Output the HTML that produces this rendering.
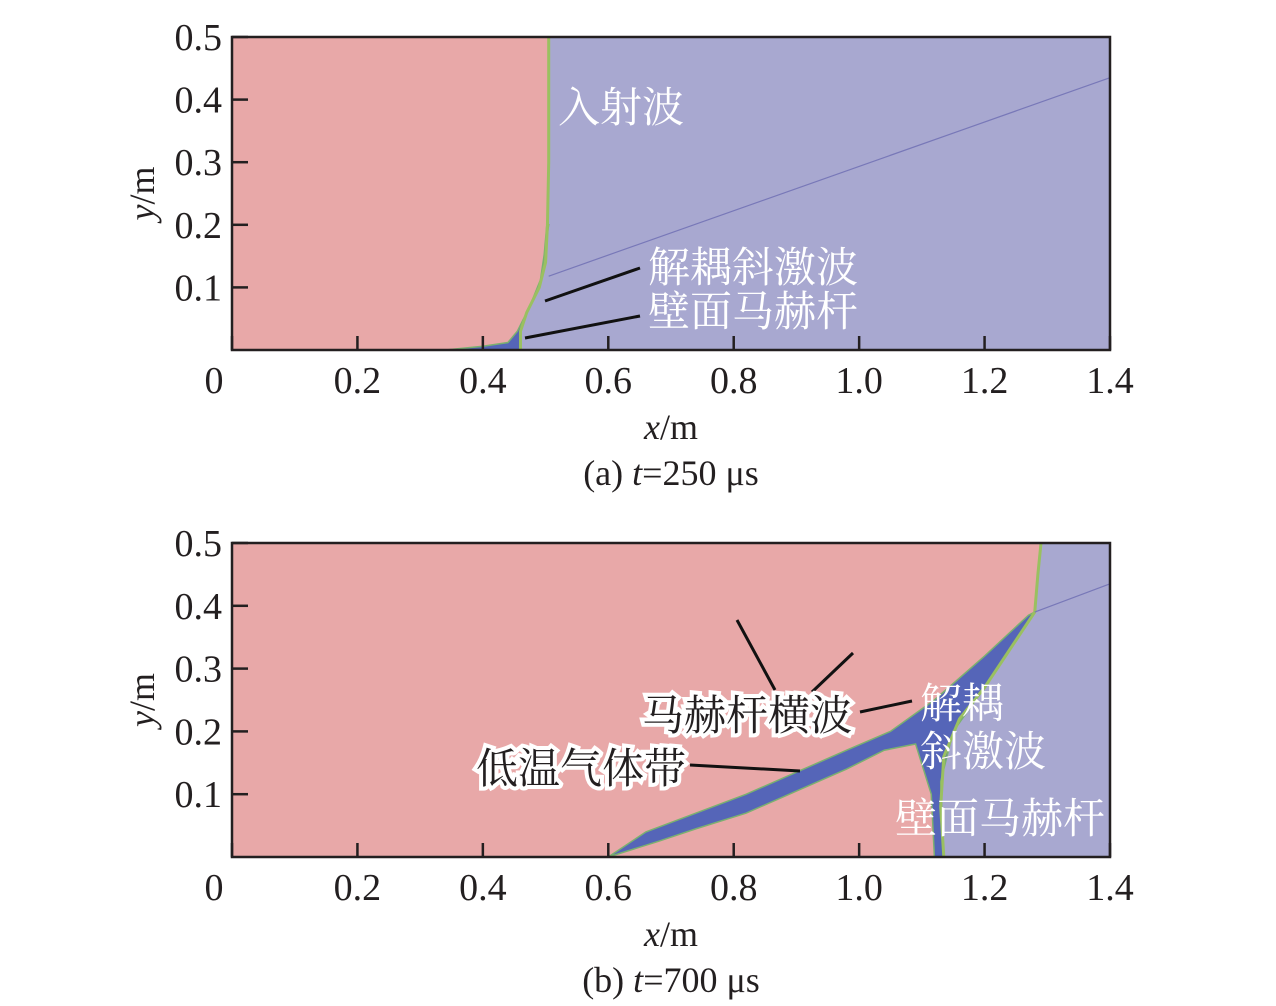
<!DOCTYPE html>
<html><head><meta charset="utf-8">
<style>
html,body{margin:0;padding:0;background:#fff;}
svg{display:block;}
text{font-family:"Liberation Serif","Noto Serif CJK SC",serif;fill:#231f20;}
.cjk{font-family:"Liberation Serif","Noto Serif CJK SC","Noto Sans CJK SC",serif;}
</style></head>
<body>
<svg id="chart" width="1276" height="1006" viewBox="0 0 1276 1006" xmlns="http://www.w3.org/2000/svg"></svg>
<script>
const xTicks=[0,0.2,0.4,0.6,0.8,1.0,1.2,1.4];
const xTickLabels=["0","0.2","0.4","0.6","0.8","1.0","1.2","1.4"];
const yTicks=[0.1,0.2,0.3,0.4,0.5];
const yTickLabels=["0.1","0.2","0.3","0.4","0.5"];
// shock front / hot-region boundary (x m, y m)
const frontA=[[0.505,0.5],[0.505,0.3],[0.503,0.2],[0.5,0.14],[0.49,0.10],[0.47,0.06],[0.46,0.03],[0.46,0]];
const bandA=[[0.505,0.2],[0.49,0.1],[0.47,0.06],[0.46,0.03],[0.46,0],[0.34,0],[0.4,0.006],[0.44,0.012],[0.455,0.03],[0.475,0.07],[0.495,0.12],[0.502,0.2]];
const obliqueA=[[0.505,0.118],[1.4,0.435]];
const frontB=[[1.29,0.5],[1.285,0.45],[1.28,0.39],[1.24,0.33],[1.2,0.27],[1.16,0.22],[1.135,0.16],[1.13,0.08],[1.135,0]];
const bandB=[[1.28,0.39],[1.2,0.27],[1.15,0.2],[1.13,0.12],[1.135,0],[1.12,0],[1.115,0.1],[1.09,0.18],[1.04,0.17],[0.98,0.14],[0.9,0.105],[0.82,0.07],[0.74,0.045],[0.68,0.025],[0.6,0],[0.66,0.04],[0.74,0.07],[0.82,0.1],[0.9,0.135],[0.98,0.17],[1.05,0.2],[1.12,0.25],[1.2,0.32],[1.27,0.385]];
const obliqueB=[[1.28,0.39],[1.4,0.435]];
const panels=[{top:37,bottom:350,front:frontA,band:bandA,obl:obliqueA,cap:"a",t:"250",id:"a"},
              {top:543,bottom:857,front:frontB,band:bandB,obl:obliqueB,cap:"b",t:"700",id:"b"}];
const svg=document.getElementById('chart');
const NS="http://www.w3.org/2000/svg";
const L=232,R=1110;
function X(v){return L+(R-L)*v/1.4;}
function mk(tag,attrs,parent){const e=document.createElementNS(NS,tag);for(const k in attrs)e.setAttribute(k,attrs[k]);(parent||svg).appendChild(e);return e;}
panels.forEach(p=>{
  const Y=v=>p.bottom-(p.bottom-p.top)*v/0.5;
  const g=mk('g',{});
  
  
  const bg=mk('rect',{x:L,y:p.top,width:R-L,height:p.bottom-p.top,fill:'#a8a8d0'},g);
  
  
  let pts=p.front.map(q=>X(q[0])+','+Y(q[1]));
  pts.push(X(0)+','+Y(0));pts.push(X(0)+','+Y(0.5));
  const hot=mk('polygon',{points:pts.join(' '),fill:'#e8a8a8'},g);
  
  
  const band=mk('polygon',{points:p.band.map(q=>X(q[0])+','+Y(q[1])).join(' '),fill:'#5565b8',stroke:'#7ab070','stroke-width':1.5},g);
  
  
  const fl=mk('polyline',{points:p.front.map(q=>X(q[0])+','+Y(q[1])).join(' '),fill:'none',stroke:'#9ac060','stroke-width':3},g);
  
  
  const ob=mk('line',{x1:X(p.obl[0][0]),y1:Y(p.obl[0][1]),x2:X(p.obl[1][0]),y2:Y(p.obl[1][1]),stroke:'#7878b8','stroke-width':1.2},g);
  
  
  const fr=mk('rect',{x:L,y:p.top,width:R-L,height:p.bottom-p.top,fill:'none',stroke:'#231f20','stroke-width':2.5},g);
  
  
  xTicks.forEach((v,i)=>{
    const t=mk('line',{x1:X(v),y1:p.bottom,x2:X(v),y2:p.bottom-14,stroke:'#231f20','stroke-width':2.5},g);
    
    
    const tl=mk('text',{x:X(v)-(i===0?18:0),y:p.bottom+43,'text-anchor':'middle','font-size':38},g);
    tl.textContent=xTickLabels[i];
    
    
  });
  yTicks.forEach((v,i)=>{
    const t=mk('line',{x1:L,y1:Y(v),x2:L+16,y2:Y(v),stroke:'#231f20','stroke-width':2.5},g);
    
    
    const tl=mk('text',{x:L-10,y:Y(v)+13,'text-anchor':'end','font-size':38},g);
    tl.textContent=yTickLabels[i];
    
    
  });
  const xt=mk('text',{x:671,y:p.bottom+89,'text-anchor':'middle','font-size':36},g);
  xt.innerHTML='<tspan font-style="italic">x</tspan>/m';
  
  
  const yt=mk('text',{x:0,y:0,'text-anchor':'middle','font-size':36,transform:'translate(154,'+((p.top+p.bottom)/2)+') rotate(-90)'},g);
  yt.innerHTML='<tspan font-style="italic">y</tspan>/m';
  
  
  const cp=mk('text',{x:671,y:p.bottom+135,'text-anchor':'middle','font-size':36},g);
  cp.innerHTML='('+p.cap+') <tspan font-style="italic">t</tspan>='+p.t+' μs';
  
  
});
function line(x1,y1,x2,y2,name){const l=mk('line',{x1,y1,x2,y2,stroke:'#111','stroke-width':3});}
function label(txt,x,y,name,halo){
  const t=mk('text',{x,y,'font-size':42,class:'cjk'});
  t.textContent=txt;
  if(halo){t.setAttribute('style','fill:#231f20;stroke:#fff;stroke-width:8;paint-order:stroke;');}
  else{t.setAttribute('style','fill:#fff;');}
  
  
}
line(545,301,640,268,'pointer-oblique-a');
line(525,338,640,316,'pointer-mach-a');
label('入射波',558,122,'label-incident-wave',false);
label('解耦斜激波',648,282,'label-oblique-shock-a',false);
label('壁面马赫杆',648,326,'label-mach-stem-a',false);
line(737,620,775,690,'pointer-transverse-1');
line(853,653,812,692,'pointer-transverse-2');
line(860,712,912,701,'pointer-oblique-b');
line(690,765,800,771,'pointer-cold-band');
label('马赫杆横波',642,730,'label-transverse-wave',true);
label('低温气体带',476,783,'label-cold-gas-band',true);
label('解耦',920,718,'label-oblique-b-1',false);
label('斜激波',920,766,'label-oblique-b-2',false);
label('壁面马赫杆',895,833,'label-mach-stem-b',false);
</script>
</body></html>
